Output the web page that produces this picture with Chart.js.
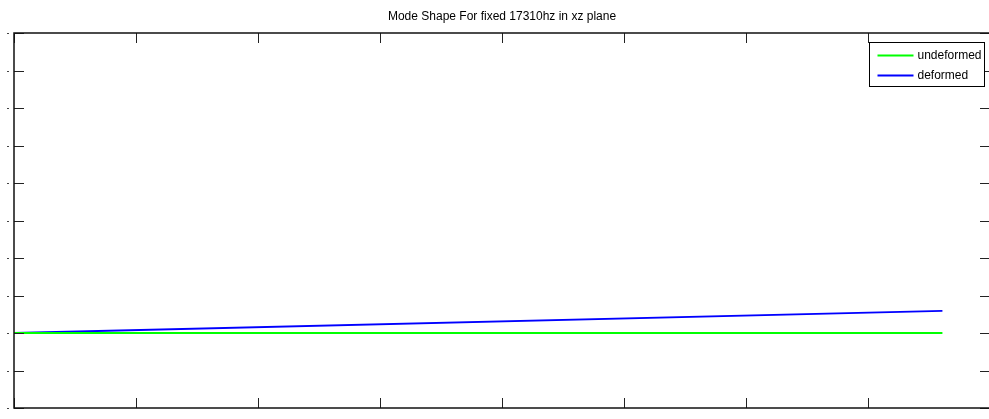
<!DOCTYPE html>
<html>
<head>
<meta charset="utf-8">
<script src="https://cdn.jsdelivr.net/npm/chart.js@4/dist/chart.umd.min.js"></script>
<style>
    html, body { margin: 0; padding: 0; background: #fff; overflow: hidden; }
    #wrap { width: 1000px; height: 419px; position: relative; }
</style>
</head>
<body>
<div id="wrap"><canvas id="modeChart"></canvas></div>
<script>
// Mode shape data
const xPositions = [0, 7.61];
const undeformed = [0, 0];
const deformed = [0, 0.59];
const seriesNames = ['undeformed', 'deformed'];
const seriesColors = ['#00ff00', '#0000ff'];

// Axis limits / ticks
const xMin = 0, xMax = 8, xStep = 1;
const yMin = -2, yMax = 8, yStep = 1;

function toPoints(xs, ys) {
    return xs.map((x, i) => ({ x: x, y: ys[i] }));
}

// Box, inward ticks and boxed legend, MATLAB style
const framePlugin = {
    id: 'frame',
    afterDraw(chart) {
        const ctx = chart.ctx;
        const a = chart.chartArea;
        const xs = chart.scales.x, ys = chart.scales.y;
        const len = 10;
        ctx.save();
        ctx.strokeStyle = '#222';
        ctx.lineWidth = 1;

        // ticks
        ctx.beginPath();
        for (let v = xMin; v <= xMax + 1e-9; v += xStep) {
            const px = Math.round(xs.getPixelForValue(v)) + 0.5;
            ctx.moveTo(px, a.bottom); ctx.lineTo(px, a.bottom - len);
            ctx.moveTo(px, a.top); ctx.lineTo(px, a.top + len);
        }
        for (let v = yMin; v <= yMax + 1e-9; v += yStep) {
            const py = Math.round(ys.getPixelForValue(v)) + 0.5;
            ctx.moveTo(a.left, py); ctx.lineTo(a.left + len, py);
            ctx.moveTo(a.right, py); ctx.lineTo(a.right - len, py);
        }
        ctx.stroke();

        // clipped tick label remnants on the left
        ctx.fillStyle = '#444';
        for (let v = yMin; v <= yMax + 1e-9; v += yStep) {
            const py = Math.round(ys.getPixelForValue(v));
            ctx.fillRect(a.left - 7, py, 2, 1);
        }

        // axes box
        ctx.lineWidth = 1.5;
        ctx.strokeStyle = '#111';
        ctx.strokeRect(a.left, a.top, a.right - a.left, a.bottom - a.top);

        // legend
        const bw = 115, bh = 44;
        const bx = Math.round(a.right - 6 - bw) + 0.5;
        const by = Math.round(a.top + 9) + 0.5;
        ctx.fillStyle = '#fff';
        ctx.fillRect(bx, by, bw, bh);
        ctx.lineWidth = 1;
        ctx.strokeStyle = '#000';
        ctx.strokeRect(bx, by, bw, bh);
        ctx.font = '12px "Liberation Sans", Arial, sans-serif';
        ctx.textBaseline = 'middle';
        seriesNames.forEach((name, i) => {
            const ly = by + 13 + i * 20;
            ctx.strokeStyle = seriesColors[i];
            ctx.lineWidth = 2;
            ctx.beginPath();
            ctx.moveTo(bx + 8, ly);
            ctx.lineTo(bx + 44, ly);
            ctx.stroke();
            ctx.fillStyle = '#000';
            ctx.fillText(name, bx + 48, ly);
        });
        ctx.restore();
    }
};

new Chart(document.getElementById('modeChart'), {
    type: 'line',
    data: {
        datasets: [
            {
                label: seriesNames[0],
                data: toPoints(xPositions, undeformed),
                borderColor: seriesColors[0],
                borderWidth: 2,
                pointRadius: 0,
                tension: 0
            },
            {
                label: seriesNames[1],
                data: toPoints(xPositions, deformed),
                borderColor: seriesColors[1],
                borderWidth: 2,
                pointRadius: 0,
                tension: 0
            }
        ]
    },
    options: {
        responsive: true,
        maintainAspectRatio: false,
        animation: false,
        layout: { padding: { left: 14, right: 10, top: 0, bottom: 11 } },
        plugins: {
            legend: { display: false },
            tooltip: { enabled: false },
            title: {
                display: true,
                text: 'Mode Shape For fixed 17310hz in xz plane',
                color: '#000',
                font: { family: '"Liberation Sans", Arial, sans-serif', size: 12, weight: 'normal' },
                padding: { top: 9, bottom: 9.6 }
            }
        },
        scales: {
            x: { type: 'linear', display: false, min: xMin, max: xMax },
            y: { type: 'linear', display: false, min: yMin, max: yMax }
        }
    },
    plugins: [framePlugin]
});
</script>
</body>
</html>
